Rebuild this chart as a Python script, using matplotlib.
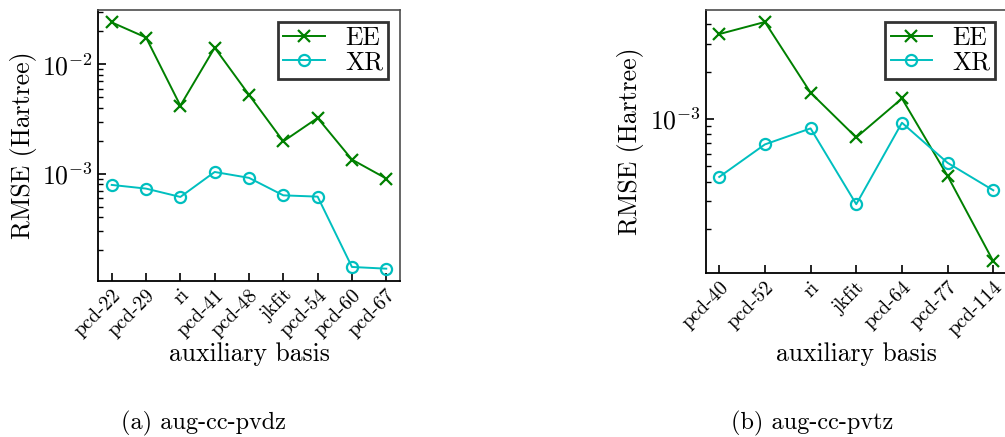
import numpy as np
import matplotlib
matplotlib.use("Agg")
import matplotlib.pyplot as plt

plt.rcParams["font.family"] = ["cmr10", "DejaVu Serif"]
plt.rcParams["mathtext.fontset"] = "cm"
plt.rcParams["axes.formatter.use_mathtext"] = True

# aug-cc-pvdz
basis_dz = ["pcd-22", "pcd-29", "ri", "pcd-41", "pcd-48", "jkfit", "pcd-54", "pcd-60", "pcd-67"]
ee_dz = [0.0242, 0.0176, 0.0042, 0.0142, 0.00527, 0.00198, 0.00324, 0.00135, 0.000906]
xr_dz = [0.000792, 0.000733, 0.000615, 0.00104, 0.000919, 0.000636, 0.000619, 0.000141, 0.000136]

# aug-cc-pvtz
basis_tz = ["pcd-40", "pcd-52", "ri", "jkfit", "pcd-64", "pcd-77", "pcd-114"]
ee_tz = [0.00346, 0.00413, 0.00147, 0.000764, 0.00135, 0.000435, 0.000125]
xr_tz = [0.000429, 0.00069, 0.000872, 0.000288, 0.000947, 0.000527, 0.000353]

captions = ["(a) aug-cc-pvdz", "(b) aug-cc-pvtz"]

fig = plt.figure(figsize=(10.05, 4.37), dpi=100)
ax1 = fig.add_axes([0.0975, 0.357, 0.3005, 0.620])
ax2 = fig.add_axes([0.702, 0.3746, 0.300, 0.6025])

for ax, names, ee, xr in [(ax1, basis_dz, ee_dz, xr_dz), (ax2, basis_tz, ee_tz, xr_tz)]:
    x = np.arange(len(names))
    ax.plot(x, ee, "-x", color="g", lw=1.4, ms=8, mew=1.6, label="EE")
    ax.plot(x, xr, "-o", color="c", lw=1.4, ms=8, mew=1.6, mfc="none", label="XR")
    ax.set_yscale("log")
    ax.set_xticks(x)
    ax.set_xticklabels(names, rotation=45, ha="right", rotation_mode="anchor", fontsize=14.5)
    ax.tick_params(axis="y", which="major", labelsize=18.5)
    ax.tick_params(which="both", direction="in", top=False, right=False)
    ax.tick_params(which="major", length=6, width=1.2)
    ax.tick_params(which="minor", length=3.5, width=1.0)
    ax.set_xlabel("auxiliary basis", fontsize=18.5, labelpad=2)
    ax.set_ylabel("RMSE (Hartree)", fontsize=18.5)
    for s in ["top", "right"]:
        ax.spines[s].set_color("0.3")
        ax.spines[s].set_linewidth(1.2)
    for s in ["left", "bottom"]:
        ax.spines[s].set_linewidth(1.3)
    leg = ax.legend(loc="upper right", fontsize=18.5, fancybox=False, framealpha=1,
                    handlelength=1.6, borderpad=0.2, labelspacing=0.0, handletextpad=0.8,
                    borderaxespad=0.45)
    leg.get_frame().set_edgecolor("0.2")
    leg.get_frame().set_linewidth(2)

fig.text(203 / 1005, 0.03, captions[0], ha="center", va="center", fontsize=17.5)
fig.text(812 / 1005, 0.03, captions[1], ha="center", va="center", fontsize=17.5)

plt.savefig("out.png", dpi=100)
